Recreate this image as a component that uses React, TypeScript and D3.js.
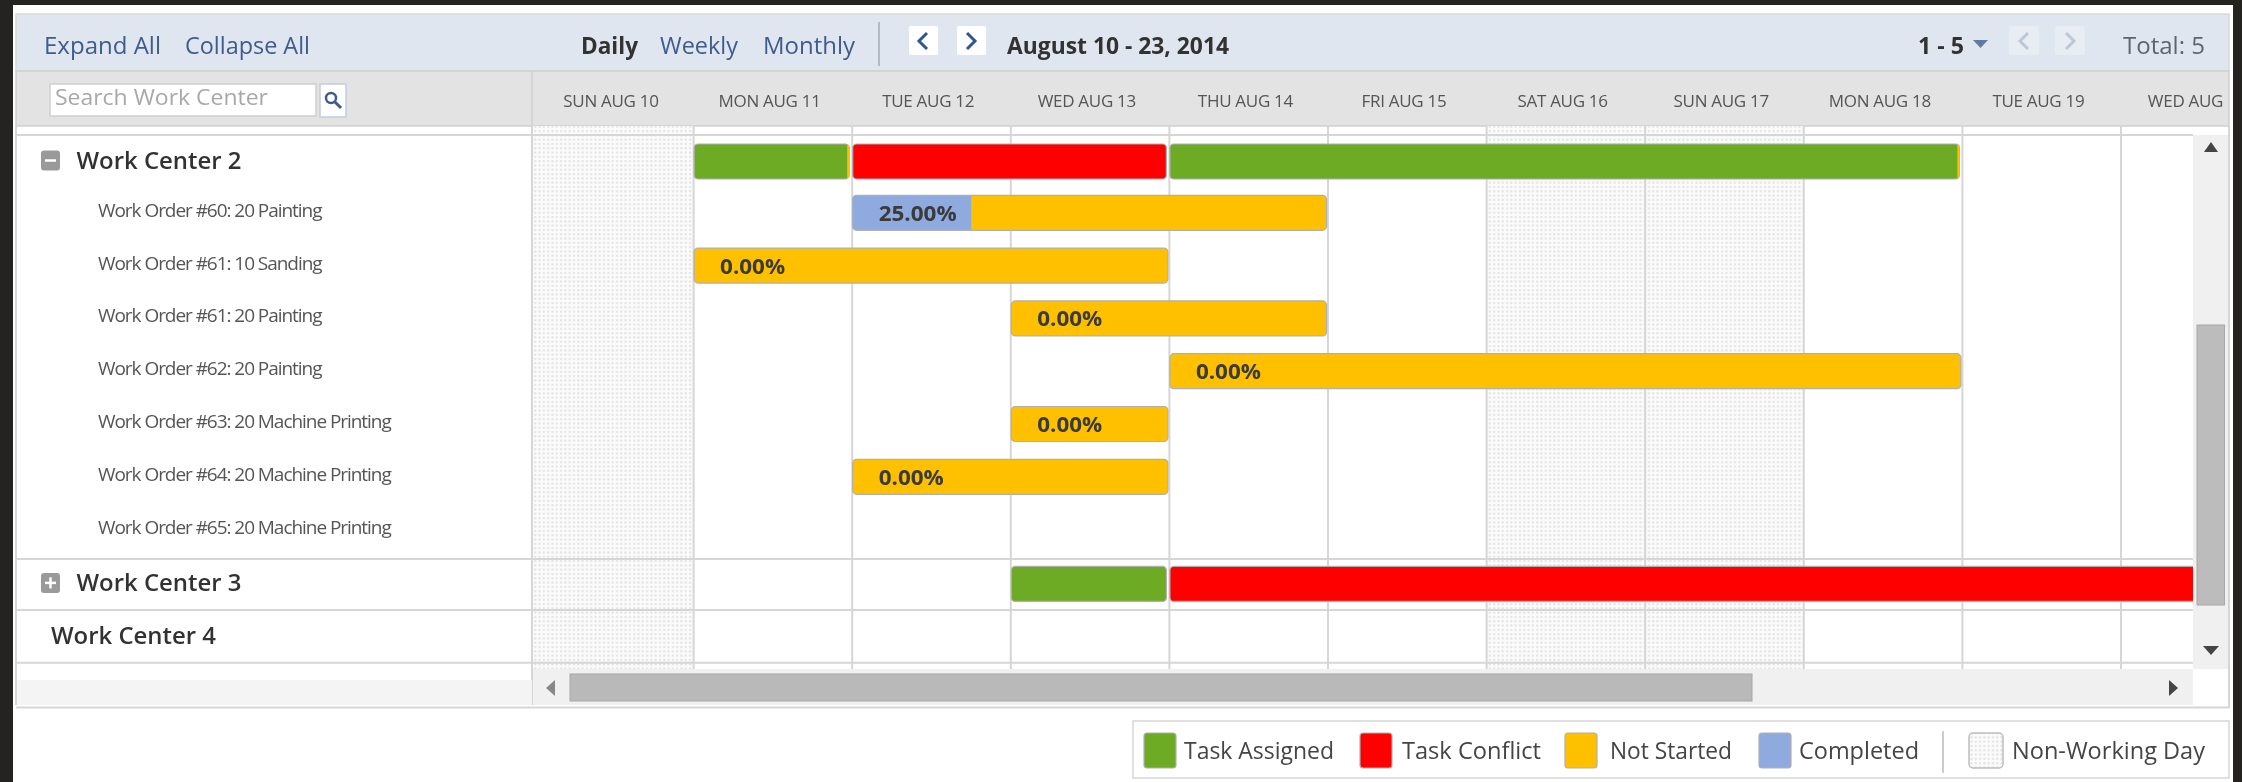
import React from "react";
import * as d3 from "d3";

const FONT = "'Open Sans', sans-serif";

const dayStarts = d3.timeDay.range(new Date(2014, 7, 10), new Date(2014, 7, 22));
const dayLabels = ["SUN AUG 10", "MON AUG 11", "TUE AUG 12", "WED AUG 13", "THU AUG 14", "FRI AUG 15", "SAT AUG 16", "SUN AUG 17", "MON AUG 18", "TUE AUG 19", "WED AUG 20"];
const nonWorkingDays = [new Date(2014, 7, 10), new Date(2014, 7, 16), new Date(2014, 7, 17)];

const rowIds = ["wc2", "o60", "o61a", "o61b", "o62", "o63", "o64", "o65", "wc3", "wc4"];
const rowLabels = ["Work Center 2", "Work Order #60: 20 Painting", "Work Order #61: 10 Sanding", "Work Order #61: 20 Painting", "Work Order #62: 20 Painting", "Work Order #63: 20 Machine Printing", "Work Order #64: 20 Machine Printing", "Work Order #65: 20 Machine Printing", "Work Center 3", "Work Center 4"];

// [row, start day in August, end day in August, status]
const centerSegments: [string, number, number, string][] = [
  ["wc2", 11, 12, "Task Assigned"],
  ["wc2", 12, 14, "Task Conflict"],
  ["wc2", 14, 19, "Task Assigned"],
  ["wc3", 13, 14, "Task Assigned"],
  ["wc3", 14, 22, "Task Conflict"],
];

// [row, start day in August, end day in August, percent complete]
const orderBars: [string, number, number, number][] = [
  ["o60", 12, 15, 25],
  ["o61a", 11, 14, 0],
  ["o61b", 13, 15, 0],
  ["o62", 14, 19, 0],
  ["o63", 13, 14, 0],
  ["o64", 12, 14, 0],
];

const legendNames = ["Task Assigned", "Task Conflict", "Not Started", "Completed"];
const legendColors = ["#6dab24", "#ff0000", "#ffc000", "#8eaadf"];
const legendSwatchX = [1144, 1360, 1565, 1759];
const legendTextX = [1184, 1402, 1610, 1799];
const legendTextW = [150, 139, 122, 120];

const color = d3.scaleOrdinal<string, string>().domain(legendNames).range(legendColors);
const x = d3.scaleTime().domain([new Date(2014, 7, 10), new Date(2014, 7, 20)]).range([535, 2121]);
const y = d3.scalePoint<string>().domain(rowIds).range([161.5, 161.5 + 9 * 52.8]);
const day = (d: number) => x(new Date(2014, 7, d));

const gridLeft = 532, gridRight = 2193, gridTop = 126, gridBottom = 669;
const LINE = "#d6d6d6";
const BAR_EDGE = "#b0b0b0";

const T = (p: any) => <text fontFamily={FONT} dominantBaseline="central" lengthAdjust="spacingAndGlyphs" {...p} />;

function Chevron({ cx, cy, dir, col }: { cx: number; cy: number; dir: number; col: string }) {
  return <path d={`M${cx + 4 * dir},${cy - 8}L${cx - 4 * dir},${cy}L${cx + 4 * dir},${cy + 8}`} fill="none" stroke={col} strokeWidth={3} />;
}

export default function App() {
  const orderY = (id: string) => (y(id) as number) - 1.5;
  return (
    <svg width={2242} height={782} style={{ position: "absolute", left: 0, top: 0, display: "block" }}>
      <defs>
        <pattern id="dots" width={4.3} height={4.3} patternUnits="userSpaceOnUse">
          <rect width={4.3} height={4.3} fill="#fbfbfb" />
          <rect x={1} y={1} width={2.1} height={2.1} fill="#e2e2e2" />
        </pattern>
        <filter id="soft" x="-5%" y="-5%" width="110%" height="110%">
          <feGaussianBlur stdDeviation={0.45} />
        </filter>
        <clipPath id="grid"><rect x={gridLeft} y={gridTop} width={gridRight - gridLeft} height={gridBottom - gridTop} /></clipPath>
        <clipPath id="hdr"><rect x={gridLeft} y={71} width={2225 - gridLeft} height={55} /></clipPath>
      </defs>

      <rect width={2242} height={782} fill="#25231f" />
      <rect x={13} y={5} width={2220} height={777} fill="#ffffff" />

      {/* toolbar + header */}
      <rect x={16} y={14} width={2213} height={57} fill="#dfe6f0" stroke="#d9d9d9" strokeWidth={1.5} />
      <rect x={16} y={71} width={2213} height={55} fill="#e3e3e3" stroke="#d0d0d0" strokeWidth={1.5} />
      <line x1={532} x2={532} y1={71} y2={126} stroke="#d0d0d0" strokeWidth={1.5} />

      <g filter="url(#soft)">
        <T x={44} y={45} fontSize={23} fill="#3f5c8c" textLength={117}>Expand All</T>
        <T x={185} y={45} fontSize={23} fill="#3f5c8c" textLength={125}>Collapse All</T>
        <T x={581} y={45} fontSize={23} fontWeight={700} fill="#333" textLength={57}>Daily</T>
        <T x={660} y={45} fontSize={23} fill="#3f5c8c" textLength={78}>Weekly</T>
        <T x={763} y={45} fontSize={23} fill="#3f5c8c" textLength={92}>Monthly</T>
        <T x={1007} y={45} fontSize={23} fontWeight={700} fill="#333" textLength={222}>August 10 - 23, 2014</T>
        <T x={1918} y={45} fontSize={23} fontWeight={700} fill="#333" textLength={46}>1 - 5</T>
        <T x={2123} y={45} fontSize={23} fill="#5d6670" textLength={82}>Total: 5</T>
      </g>
      <line x1={879} x2={879} y1={22} y2={66} stroke="#a8adb3" strokeWidth={1.5} />
      <rect x={909} y={26} width={29} height={29} rx={2} fill="#ffffff" />
      <rect x={957} y={26} width={29} height={29} rx={2} fill="#ffffff" />
      <Chevron cx={923} cy={41} dir={1} col="#2f5597" />
      <Chevron cx={971} cy={41} dir={-1} col="#2f5597" />
      <path d="M1973,40L1988,40L1980.5,48Z" fill="#5f7ba0" />
      <rect x={2009} y={26} width={30} height={29} rx={2} fill="#e8edf4" />
      <rect x={2055} y={26} width={30} height={29} rx={2} fill="#e8edf4" />
      <Chevron cx={2024} cy={41} dir={1} col="#bcc8d8" />
      <Chevron cx={2070} cy={41} dir={-1} col="#bcc8d8" />

      {/* search */}
      <rect x={50} y={84} width={266} height={32} fill="#ffffff" stroke="#cfcfcf" strokeWidth={1.5} />
      <T x={55} y={96} fontSize={22} fill="#a8a8a8" textLength={213} filter="url(#soft)">Search Work Center</T>
      <rect x={320} y={84} width={26} height={33} fill="#ffffff" stroke="#c3cbe0" strokeWidth={1.5} />
      <circle cx={331} cy={98} r={5} fill="none" stroke="#3f5c8c" strokeWidth={2.5} />
      <line x1={335} y1={102} x2={341} y2={108} stroke="#3f5c8c" strokeWidth={3} />

      {/* day labels */}
      <g clipPath="url(#hdr)">
        <g filter="url(#soft)">
          {dayLabels.map((l, i) => (
            <T key={l} x={(x(dayStarts[i]) as number) + 76} y={100} fontSize={17} letterSpacing={-0.3} fill="#555" textAnchor="middle">{l}</T>
          ))}
        </g>
      </g>

      {/* grid */}
      <g clipPath="url(#grid)">
        {nonWorkingDays.map((d) => (
          <rect key={+d} x={x(d)} y={gridTop} width={x(d3.timeDay.offset(d, 1)) - (x(d) as number)} height={gridBottom - gridTop} fill="url(#dots)" />
        ))}
        <rect x={gridLeft} y={gridTop} width={4} height={gridBottom - gridTop} fill="url(#dots)" />
        {dayStarts.slice(1).map((d) => (
          <line key={+d} x1={x(d)} x2={x(d)} y1={gridTop} y2={gridBottom} stroke={LINE} strokeWidth={2} />
        ))}
      </g>
      <line x1={16} x2={gridRight} y1={135} y2={135} stroke={LINE} strokeWidth={2} />
      {["o65", "wc3", "wc4"].map((id) => (
        <line key={id} x1={16} x2={gridRight} y1={(y(id) as number) - (id === "o65" ? -28 : -26)} y2={(y(id) as number) - (id === "o65" ? -28 : -26)} stroke={LINE} strokeWidth={2} />
      ))}
      <line x1={532} x2={532} y1={126} y2={705} stroke={LINE} strokeWidth={2} />
      <line x1={16} x2={16} y1={126} y2={705} stroke={LINE} strokeWidth={2} />
      <line x1={2229} x2={2229} y1={126} y2={708} stroke={LINE} strokeWidth={2} />

      {/* scroll areas */}
      <rect x={17} y={680} width={515} height={25} fill="#f4f4f4" />
      <rect x={533} y={669} width={1660} height={36} fill="#f0f0f0" />
      <rect x={2193} y={135} width={35} height={534} fill="#f0f0f0" />
      <rect x={570} y={674} width={1182} height={27} fill="#b9b9b9" stroke="#a8a8a8" />
      <rect x={2197} y={325} width={27.5} height={280} fill="#bcbcbc" stroke="#a8a8a8" />
      <path d="M2204,152L2218,152L2211,142Z" fill="#444" />
      <path d="M2203,646L2219,646L2211,655Z" fill="#444" />
      <path d="M555,680L555,696L546,688Z" fill="#888" />
      <path d="M2169,680L2169,696L2178,688Z" fill="#444" />
      <line x1={16} x2={2229} y1={707.5} y2={707.5} stroke={LINE} strokeWidth={2} />

      {/* row labels */}
      <g filter="url(#soft)">
        {rowIds.map((id, i) => {
          const isCenter = id.startsWith("wc");
          const lx = id === "wc4" ? 51 : isCenter ? 76.5 : 98;
          return isCenter ? (
            <T key={id} x={lx} y={y(id)} dy={-1.5} fontSize={23} fontWeight={600} fill="#333" textLength={165}>{rowLabels[i]}</T>
          ) : (
            <T key={id} x={lx} y={orderY(id)} dy={-3} fontSize={19} fill="#555" letterSpacing={-1.05}>{rowLabels[i]}</T>
          );
        })}
      </g>
      {["wc2", "wc3"].map((id) => (
        <g key={id}>
          <rect x={41} y={(y(id) as number) - 11} width={19} height={20} rx={3} fill="#9a9a9a" />
          <line x1={45} x2={56} y1={(y(id) as number) - 1} y2={(y(id) as number) - 1} stroke="#fff" strokeWidth={2.5} />
          {id === "wc3" && <line x1={50.5} x2={50.5} y1={(y(id) as number) - 6.5} y2={(y(id) as number) + 4.5} stroke="#fff" strokeWidth={2.5} />}
        </g>
      ))}

      {/* bars */}
      <g clipPath="url(#grid)">
        {centerSegments.map(([id, s, e, st]) => {
          const x0 = day(s) + 0.5, x1 = day(e) - 3, cy = y(id) as number;
          return (
            <g key={id + s}>
              <rect x={x0} y={cy - 17.5} width={x1 - x0} height={35} rx={4} fill={color(st)} stroke={BAR_EDGE} strokeWidth={1.2} />
              {id === "wc2" && st === "Task Assigned" && <rect x={x1 - 2} y={cy - 16.5} width={2} height={33} fill="#ffc000" />}
            </g>
          );
        })}
        {orderBars.map(([id, s, e, pct]) => {
          const x0 = day(s) + 0.5, x1 = day(e) - 1.5, cy = orderY(id);
          const w = x1 - x0;
          return (
            <g key={id}>
              <rect x={x0} y={cy - 17.5} width={w} height={35} rx={4} fill={color("Not Started")} stroke={BAR_EDGE} strokeWidth={1.2} />
              {pct > 0 && <path d={`M${x0 + 3},${cy - 17}h${(w * pct) / 100 - 3}v34h-${(w * pct) / 100 - 3}a3,3 0 0 1 -3,-3v-28a3,3 0 0 1 3,-3z`} fill={color("Completed")} />}
              <T x={x0 + 26} y={cy} dy={-1} fontSize={22} fontWeight={700} fill="#3a3a3a" textLength={pct > 0 ? 78 : 65} filter="url(#soft)">{pct.toFixed(2) + "%"}</T>
            </g>
          );
        })}
      </g>

      {/* legend */}
      <rect x={1133} y={721} width={1096} height={57} fill="#fff" stroke={LINE} strokeWidth={1.5} />
      {legendNames.map((n, i) => (
        <g key={n}>
          <rect x={legendSwatchX[i]} y={733} width={32} height={35} rx={3} fill={color(n)} stroke={BAR_EDGE} strokeWidth={1.2} />
          <T x={legendTextX[i]} y={750} fontSize={23} fill="#444" textLength={legendTextW[i]} filter="url(#soft)">{n}</T>
        </g>
      ))}
      <line x1={1943} x2={1943} y1={731} y2={773} stroke="#bbb" strokeWidth={1.5} />
      <rect x={1969} y={733} width={34} height={35} rx={4} fill="url(#dots)" stroke="#bdbdbd" strokeWidth={1.5} />
      <T x={2012} y={750} fontSize={23} fill="#444" textLength={193} filter="url(#soft)">Non-Working Day</T>
    </svg>
  );
}
